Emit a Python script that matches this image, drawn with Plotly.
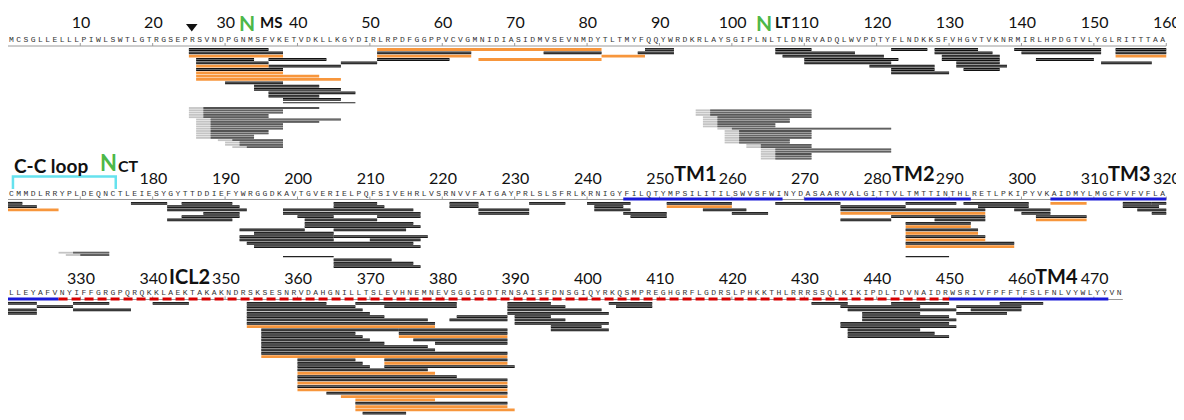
import plotly.graph_objects as go

# ---------------- data ----------------
ROW_LEN = 160
seq_row1 = "MCSGLLELLLPIWLSWTLGTRGSEPRSVNDPGNMSFVKETVDKLLKGYDIRLRPDFGGPPVCVGMNIDIASIDMVSEVNMDYTLTMYFQQYWRDKRLAYSGIPLNLTLDNRVADQLWVPDTYFLNDKKSFVHGVTVKNRMIRLHPDGTVLYGLRITTTAA"
seq_row2 = "CMMDLRRYPLDEQNCTLEIESYGYTTDDIEFYWRGGDKAVTGVERIELPQFSIVEHRLVSRNVVFATGAYPRLSLSFRLKRNIGYFILQTYMPSILITILSWVSFWINYDASAARVALGITTVLTMTTINTHLRETLPKIPYVKAIDMYLMGCFVFVFLA"
seq_row3 = "LLEYAFVNYIFFGRGPQRQKKLAEKTAKAKNDRSKSESNRVDAHGNILLTSLEVHNEMNEVSGGIGDTRNSAISFDNSGIQYRKQSMPREGHGRFLGDRSLPHKKTHLRRRSSQLKIKIPDLTDVNAIDRWSRIVFPFFTFSLFNLVYWLYYVN"

tick_numbers = [n for n in range(10, 480, 10) if n != 170]

# peptides: (start, end, lane, kind)  kind: k=black, o=orange, t=thin
peptides_row1 = [
    (26, 36, 0, "k"), (52, 82, 0, "o"), (89, 92, 0, "k"), (107, 111, 0, "k"), (123, 127, 0, "k"),
    (129, 134, 0, "k"), (140, 151, 0, "k"), (154, 160, 0, "k"),
    (26, 38, 1, "k"), (52, 64, 1, "k"), (75, 82, 1, "k"), (88, 92, 1, "k"), (107, 117, 1, "k"),
    (129, 136, 1, "k"), (141, 151, 1, "k"), (154, 160, 1, "k"),
    (26, 38, 2, "o"), (52, 64, 2, "o"), (83, 88, 2, "o"), (108, 121, 2, "k"), (130, 137, 2, "k"), (154, 160, 2, "o"),
    (27, 34, 3, "k"), (37, 44, 3, "k"), (52, 61, 3, "k"), (66, 82, 3, "o"), (111, 123, 3, "k"),
    (130, 137, 3, "k"), (143, 150, 3, "k"),
    (27, 36, 4, "k"), (47, 51, 4, "k"), (111, 122, 4, "k"), (132, 137, 4, "k"), (152, 158, 4, "k"),
    (27, 36, 5, "o"), (37, 46, 5, "k"), (120, 128, 5, "k"), (132, 138, 5, "k"),
    (27, 38, 6, "k"), (123, 128, 6, "k"), (133, 137, 6, "k"),
    (27, 38, 7, "o"), (123, 130, 7, "k"),
    (27, 43, 8, "o"), (27, 46, 9, "o"), (31, 38, 10, "k"), (35, 43, 11, "k"),
    (35, 46, 12, "k"), (37, 48, 13, "k"), (37, 43, 14, "k"), (39, 46, 15, "k"), (39, 48, 16, "t"),
]

peptides_row2 = [
    (161, 162, 0, "k"), (178, 182, 0, "k"), (185, 191, 0, "k"), (206, 211, 0, "k"), (222, 225, 0, "k"),
    (233, 237, 0, "k"), (241, 246, 0, "k"), (252, 260, 0, "k"), (267, 275, 0, "k"), (285, 291, 0, "k"),
    (293, 301, 0, "k"), (305, 309, 0, "o"), (315, 318, 0, "k"), (319, 320, 0, "k"),
    (161, 164, 1, "k"), (183, 192, 1, "k"), (206, 212, 1, "k"), (222, 225, 1, "k"), (242, 245, 1, "k"),
    (252, 260, 1, "o"), (276, 284, 1, "k"), (295, 301, 1, "k"), (315, 319, 1, "k"),
    (161, 167, 2, "o"), (183, 193, 2, "k"), (199, 216, 2, "k"), (226, 232, 2, "k"), (242, 246, 2, "k"),
    (257, 262, 2, "k"), (276, 295, 2, "k"), (300, 304, 2, "k"), (317, 320, 2, "k"),
    (188, 192, 3, "k"), (199, 217, 3, "k"), (226, 232, 3, "k"), (246, 251, 3, "k"),
    (261, 265, 3, "k"), (276, 295, 3, "o"), (301, 304, 3, "k"), (319, 320, 3, "k"),
    (185, 192, 4, "k"), (201, 205, 4, "k"), (212, 217, 4, "k"), (247, 251, 4, "k"), (283, 295, 4, "k"),
    (303, 309, 4, "k"),
    (183, 191, 5, "k"), (202, 211, 5, "k"), (276, 282, 5, "k"), (289, 295, 5, "k"), (303, 309, 5, "o"),
    (202, 216, 6, "k"), (285, 293, 6, "k"),
    (202, 217, 7, "k"), (285, 293, 7, "o"),
    (193, 201, 8, "k"), (206, 215, 8, "k"), (285, 294, 8, "k"),
    (195, 205, 9, "k"), (285, 294, 9, "o"),
    (193, 205, 10, "k"), (206, 218, 10, "k"), (285, 295, 10, "k"),
    (193, 205, 11, "k"), (211, 217, 11, "k"), (285, 295, 11, "o"),
    (194, 216, 12, "k"), (285, 299, 12, "k"),
    (195, 217, 13, "k"), (285, 299, 13, "o"),
    (199, 205, 16, "t"), (285, 290, 16, "t"),
    (206, 213, 17, "k"), (206, 216, 18, "k"), (206, 217, 19, "k"),
]

peptides_row3 = [
    (321, 324, 0, "k"), (330, 334, 0, "k"), (341, 345, 0, "k"), (354, 364, 0, "k"), (369, 382, 0, "k"),
    (390, 395, 0, "k"), (404, 409, 0, "k"), (432, 436, 0, "k"), (443, 450, 0, "k"), (458, 463, 0, "k"),
    (325, 329, 1, "k"), (354, 368, 1, "k"), (373, 382, 1, "k"), (390, 397, 1, "k"), (405, 409, 1, "k"),
    (436, 446, 1, "k"), (452, 460, 1, "k"),
    (321, 324, 2, "k"), (330, 337, 2, "k"), (354, 369, 2, "k"), (390, 402, 2, "k"), (437, 451, 2, "k"),
    (454, 460, 2, "k"),
    (321, 324, 3, "k"), (354, 370, 3, "k"), (390, 403, 3, "k"), (439, 446, 3, "k"), (452, 458, 3, "k"),
    (354, 372, 4, "k"), (383, 389, 4, "k"), (391, 395, 4, "k"), (439, 450, 4, "k"),
    (354, 378, 5, "k"), (382, 389, 5, "k"), (391, 397, 5, "k"), (439, 451, 5, "k"),
    (354, 379, 6, "k"), (391, 403, 6, "k"), (436, 450, 6, "k"),
    (354, 379, 7, "o"), (396, 402, 7, "k"), (436, 451, 7, "k"),
    (356, 374, 8, "k"), (375, 389, 8, "k"), (396, 403, 8, "k"), (437, 446, 8, "k"),
    (356, 368, 9, "k"), (375, 389, 9, "k"), (437, 448, 9, "k"),
    (356, 369, 10, "k"), (375, 389, 10, "o"), (437, 450, 10, "k"),
    (356, 370, 11, "k"), (377, 389, 11, "k"),
    (356, 372, 12, "k"), (380, 389, 12, "k"),
    (356, 378, 13, "k"), (356, 379, 14, "k"), (356, 389, 15, "k"), (356, 389, 16, "o"),
    (361, 368, 17, "k"), (373, 389, 17, "k"),
    (361, 369, 18, "k"), (373, 389, 18, "o"),
    (361, 370, 19, "k"), (373, 390, 19, "k"),
    (361, 378, 20, "k"), (361, 379, 21, "o"), (361, 382, 22, "k"), (361, 389, 23, "k"),
    (361, 389, 24, "o"), (361, 389, 25, "k"), (361, 389, 26, "o"), (365, 389, 27, "k"),
    (367, 389, 28, "o"), (369, 379, 29, "o"), (369, 389, 30, "k"), (369, 389, 31, "o"),
    (369, 390, 32, "o"), (370, 375, 33, "k"),
]

# gray (back-exchange) peptides: (start, end, lane)
gray_row1 = [
    (26, 43, 0), (26, 38, 1), (26, 38, 2), (26, 36, 3), (26, 36, 4), (27, 46, 5), (27, 43, 6),
    (27, 38, 7), (27, 38, 8), (27, 38, 9), (27, 36, 10), (27, 36, 11), (27, 34, 12), (27, 34, 13),
    (30, 38, 14), (31, 38, 15), (31, 38, 16), (32, 38, 17),
    (96, 111, 1), (96, 111, 2), (96, 111, 3), (97, 111, 4), (97, 108, 5), (97, 108, 6), (97, 106, 7),
    (97, 106, 8), (99, 122, 9), (100, 111, 10), (100, 111, 11), (100, 111, 12), (100, 111, 13),
    (100, 108, 14), (100, 108, 15), (103, 111, 16), (103, 111, 17), (105, 122, 18), (105, 122, 19),
    (105, 111, 20), (105, 111, 21), (105, 111, 22),
]
gray_row2 = [(168, 174, 0), (169, 174, 1)]

blue_segments = [(246, 267), (271, 293), (305, 320), (321, 327), (451, 472)]
red_segments = [(328, 450)]

# ---------------- layout helpers (y values in page pixels) ----------------
SEQ_Y = [40, 193.5, 293]
LINE_Y = [46, 199.5, 299.5]
NUM_Y = [24, 180, 280]
BAR_Y0 = [49.5, 203.3, 303.3]
LANE = 3.33
GRAY_Y0 = [108, 252.7]
GRAY_LANE = 2.3


def loc(res):
    row = (res - 1) // ROW_LEN
    return row, res - row * ROW_LEN


fig = go.Figure()


def add_lines(xs, ys, color, width, dash=None):
    fig.add_trace(go.Scatter(x=xs, y=ys, mode="lines", hoverinfo="skip",
                             line=dict(color=color, width=width, dash=dash)))


# sequence underline + ticks
seqs = [seq_row1, seq_row2, seq_row3]
for r, s in enumerate(seqs):
    add_lines([0.5, len(s) + 0.5], [LINE_Y[r], LINE_Y[r]], "#9a9a9a", 1)
tx, ty = [], []
for n in range(10, 475, 10):
    r, c = loc(n)
    tx += [c + 0.5, c + 0.5, None]
    ty += [LINE_Y[r], LINE_Y[r] - 3, None]
add_lines(tx, ty, "#9a9a9a", 1)

# TM / ICL segments
bx, by = [], []
for s, e in blue_segments:
    r, c0 = loc(s)
    _, c1 = loc(e)
    bx += [c0 - 0.5, c1 + 0.5, None]
    by += [LINE_Y[r] - 0.5, LINE_Y[r] - 0.5, None]
add_lines(bx, by, "#1b1bd8", 3.2)
rx, ry = [], []
for s, e in red_segments:
    r, c0 = loc(s)
    _, c1 = loc(e)
    rx += [c0 - 0.5, c1 + 0.5, None]
    ry += [LINE_Y[r] - 0.5, LINE_Y[r] - 0.5, None]
add_lines(rx, ry, "#d80000", 3.2, dash="9px,4px")

# peptides
groups = {"k": ([], []), "o": ([], []), "t": ([], [])}
for plist in (peptides_row1, peptides_row2, peptides_row3):
    for s, e, lane, kind in plist:
        r, c0 = loc(s)
        _, c1 = loc(e)
        y = BAR_Y0[r] + lane * LANE
        groups[kind][0].extend([c0 - 0.5, c1 + 0.5, None])
        groups[kind][1].extend([y, y, None])
add_lines(*groups["k"], "#111111", 2.8)
add_lines(*groups["k"], "#8c8c8c", 0.7)
add_lines(*groups["o"], "#f7963c", 2.8)
add_lines(*groups["t"], "#222222", 1.1)

# gray peptides
lx, ly, dx, dy = [], [], [], []
for r, glist in enumerate((gray_row1, gray_row2)):
    for s, e, lane in glist:
        _, c0 = loc(s)
        _, c1 = loc(e)
        y = GRAY_Y0[r] + lane * GRAY_LANE
        lx += [c0 - 0.5, c0 + 1.5, None]
        ly += [y, y, None]
        dx += [c0 + 1.5, c1 + 0.5, None]
        dy += [y, y, None]
add_lines(lx, ly, "#c4c4c4", 1.8)
add_lines(dx, dy, "#3c3c3c", 1.8)
add_lines(dx, dy, "#9a9a9a", 0.5)

# sequence letters
for r, s in enumerate(seqs):
    fig.add_trace(go.Scatter(x=list(range(1, len(s) + 1)), y=[SEQ_Y[r]] * len(s), mode="text",
                             text=list(s), hoverinfo="skip", cliponaxis=False,
                             textfont=dict(family="Liberation Mono", size=8, color="#333333")))

# tick numbers
nx, ny, nt = [], [], []
for n in tick_numbers:
    r, c = loc(n)
    nx.append(c + 0.6)
    ny.append(NUM_Y[r])
    nt.append(str(n))
fig.add_trace(go.Scatter(x=nx, y=ny, mode="text", text=nt, hoverinfo="skip", cliponaxis=False,
                         textfont=dict(family="Lato", size=16, color="#111")))

# arrow marker
fig.add_trace(go.Scatter(x=[25.9], y=[26.5], mode="markers", hoverinfo="skip",
                         marker=dict(symbol="triangle-down", size=10, color="#111")))

# cyan bracket
add_lines([1.2, 1.2, 15.4, 15.4], [189, 176.5, 176.5, 189], "#66e2ee", 2.5)

GREEN = "#4db848"
ann = [
    dict(x=33.5, y=8.3, text="N", yanchor="top", font=dict(family="Lato", size=21, color=GREEN)),
    dict(x=36.8, y=10.5, text="MS", yanchor="top", font=dict(family="Lato", size=15, color="#111")),
    dict(x=104.9, y=8.3, text="N", yanchor="top", font=dict(family="Lato", size=21, color=GREEN)),
    dict(x=107.5, y=10.5, text="LT", yanchor="top", font=dict(family="Lato", size=15, color="#111")),
    dict(x=6.5, y=165, text="C-C loop", yanchor="middle", font=dict(family="Lato", size=19, color="#111")),
    dict(x=14.4, y=162.5, text="N", yanchor="middle", font=dict(family="Lato", size=22, color=GREEN)),
    dict(x=17.1, y=165.5, text="CT", yanchor="middle", font=dict(family="Lato", size=16, color="#111")),
    dict(x=95.5, y=173, text="TM1", yanchor="middle", font=dict(family="Lato", size=20, color="#111")),
    dict(x=125.6, y=173, text="TM2", yanchor="middle", font=dict(family="Lato", size=20, color="#111")),
    dict(x=155.4, y=173, text="TM3", yanchor="middle", font=dict(family="Lato", size=20, color="#111")),
    dict(x=25.6, y=275.5, text="ICL2", yanchor="middle", font=dict(family="Lato", size=20, color="#111")),
    dict(x=145.4, y=275.5, text="TM4", yanchor="middle", font=dict(family="Lato", size=20, color="#111")),
]
for a in ann:
    fig.add_annotation(x=a["x"], y=a["y"], xref="x", yref="y", text="<b>" + a["text"] + "</b>",
                       showarrow=False, font=a["font"], xanchor="center", yanchor=a["yanchor"])

# The page body adds an 8px margin, so the figure is sized to the remaining window
# and the axes are set so that page pixel coordinates map 1:1.
fig.update_layout(
    width=1176, height=412, margin=dict(l=0, r=0, t=0, b=0),
    paper_bgcolor="white", plot_bgcolor="white", showlegend=False,
    xaxis=dict(range=[0.5166, 162.95], visible=False, fixedrange=True),
    yaxis=dict(range=[420, 8], visible=False, fixedrange=True),
)
fig.write_html("out.html")
